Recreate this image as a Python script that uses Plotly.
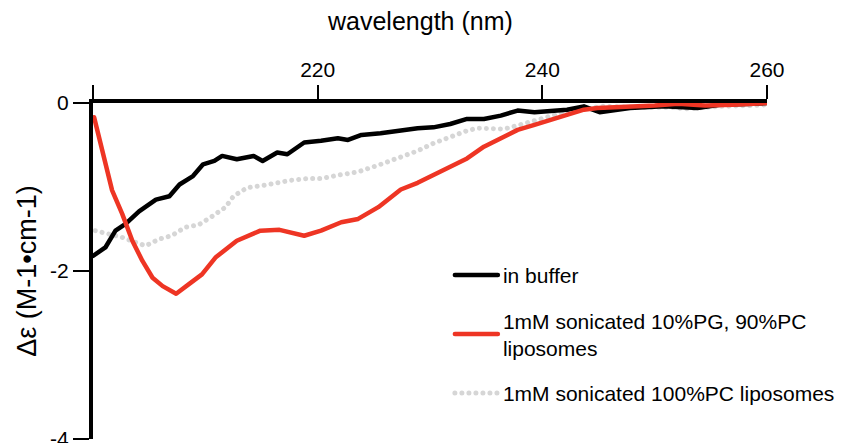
import plotly.graph_objects as go

# ---- data ----
wl_buffer = [200.0, 200.2, 201.1, 202.0, 202.9, 204.1, 205.6, 206.8, 207.7, 208.9, 209.8, 210.8, 211.5,
             212.8, 214.3, 215.1, 216.4, 217.3, 218.8, 220.3, 221.8, 222.7, 223.9, 225.6, 227.7, 228.9,
             230.3, 231.8, 233.3, 234.8, 236.3, 237.8, 239.3, 240.7, 242.2, 243.7, 245.1, 247.8, 250.8,
             253.8, 255.8, 258.8, 260.0]
de_buffer = [-1.82, -1.80, -1.72, -1.52, -1.44, -1.29, -1.15, -1.11, -0.97, -0.87, -0.73, -0.69, -0.63,
             -0.67, -0.63, -0.69, -0.59, -0.61, -0.47, -0.45, -0.42, -0.44, -0.38, -0.36, -0.32, -0.30,
             -0.29, -0.25, -0.19, -0.19, -0.15, -0.09, -0.11, -0.09, -0.08, -0.04, -0.11, -0.06, -0.04,
             -0.06, -0.02, -0.01, 0.0]

wl_pg = [200.1, 200.8, 201.7, 202.6, 203.5, 204.4, 205.3, 206.2, 207.4, 208.6, 209.7, 210.9, 211.9,
         212.8, 214.9, 216.6, 218.8, 220.3, 222.1, 223.6, 225.4, 227.4, 228.9, 230.3, 231.8, 233.3,
         234.8, 236.3, 237.8, 239.3, 240.7, 242.2, 243.7, 244.9, 247.0, 250.0, 252.1, 254.5, 257.0,
         259.0, 260.0]
de_pg = [-0.17, -0.56, -1.04, -1.32, -1.64, -1.88, -2.08, -2.18, -2.27, -2.15, -2.04, -1.84, -1.73,
         -1.64, -1.52, -1.51, -1.58, -1.52, -1.42, -1.38, -1.24, -1.03, -0.95, -0.86, -0.76, -0.66,
         -0.52, -0.42, -0.32, -0.26, -0.20, -0.14, -0.08, -0.06, -0.05, -0.03, -0.01, -0.03, -0.02,
         -0.01, 0.0]

wl_pc = [200.2, 201.4, 202.6, 203.8, 204.7, 205.9, 207.0, 208.2, 209.4, 210.6, 211.8, 212.5, 213.7,
         215.2, 216.5, 217.6, 219.1, 220.3, 221.8, 223.6, 225.4, 227.2, 228.9, 230.3, 231.8, 233.3,
         234.2, 235.4, 236.6, 238.0, 239.5, 240.7, 242.2, 243.7, 245.4, 248.4, 251.4, 252.9, 255.9,
         258.8, 260.0]
de_pc = [-1.52, -1.56, -1.60, -1.66, -1.70, -1.62, -1.58, -1.48, -1.45, -1.35, -1.24, -1.11, -1.01,
         -0.98, -0.94, -0.92, -0.90, -0.90, -0.86, -0.82, -0.74, -0.66, -0.57, -0.48, -0.40, -0.33,
         -0.30, -0.31, -0.31, -0.26, -0.20, -0.15, -0.10, -0.07, -0.04, -0.05, -0.05, -0.07, -0.04,
         -0.03, -0.02]

x_tickvals = [200, 220, 240, 260]
x_ticktext = ["", "220", "240", "260"]
y_tickvals = [0, -2, -4]
y_ticktext = ["0", "-2", "-4"]

names = ["in buffer", "1mM sonicated 10%PG, 90%PC<br>liposomes", "1mM sonicated 100%PC liposomes"]

FONT = "Liberation Sans, Arial, Helvetica, sans-serif"

fig = go.Figure()
fig.add_trace(go.Scatter(x=wl_pc, y=de_pc, mode="lines", name=names[2], legendrank=3,
                         legendgroup="c",
                         line=dict(color="#d6d6d6", width=5, dash="4px,3px")))
fig.add_trace(go.Scatter(x=wl_buffer, y=de_buffer, mode="lines", name=names[0], legendrank=1,
                         legendgroup="a",
                         line=dict(color="#000000", width=4.5)))
fig.add_trace(go.Scatter(x=wl_pg, y=de_pg, mode="lines", name=names[1], legendrank=2,
                         legendgroup="b",
                         line=dict(color="#ee3524", width=4.5)))

fig.update_layout(
    width=845, height=443,
    margin=dict(l=93, r=78, t=103, b=4, autoexpand=False),
    paper_bgcolor="white", plot_bgcolor="white",
    font=dict(family=FONT, color="#000000", size=21),
    showlegend=True,
    legend=dict(x=0.5295, y=0.548, xanchor="left", yanchor="top",
                font=dict(size=21, family=FONT), bgcolor="rgba(0,0,0,0)",
                itemwidth=43,
                traceorder="grouped", tracegroupgap=15),
    annotations=[dict(text="wavelength (nm)", xref="paper", yref="paper", x=0.485, y=1.0,
                      yshift=82, xanchor="center", yanchor="middle", showarrow=False,
                      font=dict(size=25, family=FONT))],
)
fig.update_xaxes(range=[200, 260], side="top", tickvals=x_tickvals, ticktext=x_ticktext,
                 showline=True, linewidth=4, linecolor="black", ticks="outside", ticklen=14,
                 tickwidth=2, tickcolor="black", showgrid=False, zeroline=False,
                 tickfont=dict(size=21), layer="below traces", ticklabeloverflow="allow",
                 automargin=False)
fig.update_yaxes(range=[-4, 0], tickvals=y_tickvals, ticktext=y_ticktext,
                 showline=True, linewidth=4, linecolor="black", ticks="outside", ticklen=16,
                 tickwidth=2, tickcolor="black", showgrid=False, zeroline=False,
                 tickfont=dict(size=21), ticklabeloverflow="allow", automargin=False,
                 title=dict(text="Δε (M-1•cm-1)", font=dict(size=27), standoff=7))

# round line caps so that the dotted series shows round dots, as in the reference
post = """
var gd = document.getElementsByClassName('plotly-graph-div')[0];
function roundCaps(){
  gd.querySelectorAll('path.js-line').forEach(function(p){
    p.style.strokeLinecap = 'round'; p.style.strokeLinejoin = 'round';
    var da = p.style.strokeDasharray;
    if (da && da !== 'none') { p.style.strokeDasharray = '0.01px, 7px'; }
  });
  gd.querySelectorAll('.legendlines path').forEach(function(p){
    p.style.strokeLinecap = 'round';
    var da = p.style.strokeDasharray;
    if (da && da !== 'none') { p.style.strokeDasharray = '0.01px, 7px'; }
  });
}
roundCaps();
gd.on('plotly_afterplot', roundCaps);
"""

fig.write_html("out.html", post_script=post)
